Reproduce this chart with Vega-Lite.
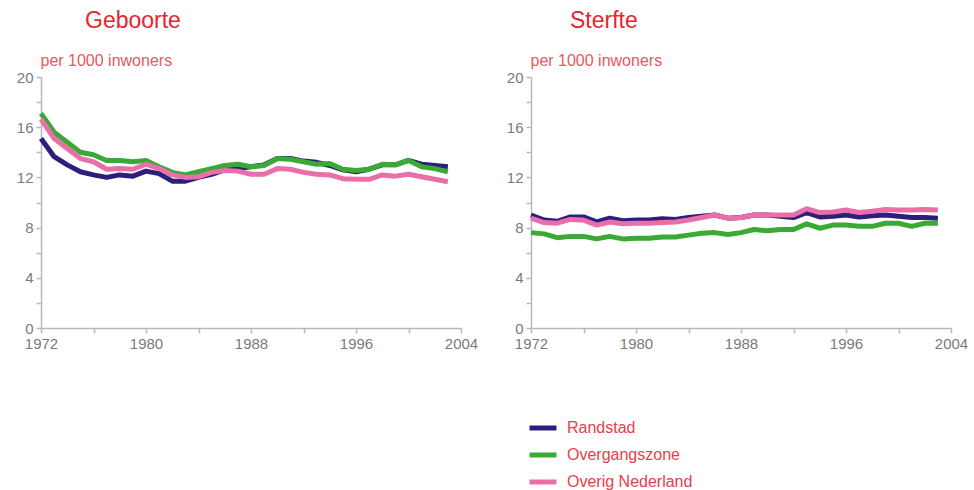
{
  "$schema": "https://vega.github.io/schema/vega-lite/v6.json",
  "padding": {"left": 11, "top": 10, "right": 0, "bottom": 0},
  "background": "white",
  "config": {
    "view": {"stroke": null},
    "font": "Liberation Sans",
    "axis": {
      "grid": false,
      "domainColor": "#b8b8b8",
      "tickColor": "#b8b8b8",
      "domainWidth": 1.5,
      "tickWidth": 1.5,
      "tickSize": 5,
      "labelColor": "#7a7a7a",
      "labelFont": "Liberation Sans",
      "labelFontSize": 15,
      "labelPadding": 3
    },
    "title": {"font": "Liberation Sans", "fontSize": 23, "fontWeight": "normal", "color": "#e5262e", "anchor": "start", "frame": "group"}
  },
  "data": {"values": [
    {"panel":"G","region":"Randstad","year":1972,"value":15.1},
    {"panel":"G","region":"Randstad","year":1973,"value":13.65},
    {"panel":"G","region":"Randstad","year":1974,"value":13.0},
    {"panel":"G","region":"Randstad","year":1975,"value":12.45},
    {"panel":"G","region":"Randstad","year":1976,"value":12.2},
    {"panel":"G","region":"Randstad","year":1977,"value":12.0},
    {"panel":"G","region":"Randstad","year":1978,"value":12.2},
    {"panel":"G","region":"Randstad","year":1979,"value":12.1},
    {"panel":"G","region":"Randstad","year":1980,"value":12.5},
    {"panel":"G","region":"Randstad","year":1981,"value":12.3},
    {"panel":"G","region":"Randstad","year":1982,"value":11.7},
    {"panel":"G","region":"Randstad","year":1983,"value":11.7},
    {"panel":"G","region":"Randstad","year":1984,"value":12.0},
    {"panel":"G","region":"Randstad","year":1985,"value":12.25},
    {"panel":"G","region":"Randstad","year":1986,"value":12.6},
    {"panel":"G","region":"Randstad","year":1987,"value":12.7},
    {"panel":"G","region":"Randstad","year":1988,"value":12.85},
    {"panel":"G","region":"Randstad","year":1989,"value":13.0},
    {"panel":"G","region":"Randstad","year":1990,"value":13.5},
    {"panel":"G","region":"Randstad","year":1991,"value":13.5},
    {"panel":"G","region":"Randstad","year":1992,"value":13.3},
    {"panel":"G","region":"Randstad","year":1993,"value":13.2},
    {"panel":"G","region":"Randstad","year":1994,"value":12.95},
    {"panel":"G","region":"Randstad","year":1995,"value":12.6},
    {"panel":"G","region":"Randstad","year":1996,"value":12.45},
    {"panel":"G","region":"Randstad","year":1997,"value":12.65},
    {"panel":"G","region":"Randstad","year":1998,"value":13.0},
    {"panel":"G","region":"Randstad","year":1999,"value":13.0},
    {"panel":"G","region":"Randstad","year":2000,"value":13.35},
    {"panel":"G","region":"Randstad","year":2001,"value":13.05},
    {"panel":"G","region":"Randstad","year":2002,"value":12.95},
    {"panel":"G","region":"Randstad","year":2003,"value":12.85},
    {"panel":"G","region":"Overgangszone","year":1972,"value":17.1},
    {"panel":"G","region":"Overgangszone","year":1973,"value":15.6},
    {"panel":"G","region":"Overgangszone","year":1974,"value":14.8},
    {"panel":"G","region":"Overgangszone","year":1975,"value":14.0},
    {"panel":"G","region":"Overgangszone","year":1976,"value":13.8},
    {"panel":"G","region":"Overgangszone","year":1977,"value":13.35},
    {"panel":"G","region":"Overgangszone","year":1978,"value":13.35},
    {"panel":"G","region":"Overgangszone","year":1979,"value":13.25},
    {"panel":"G","region":"Overgangszone","year":1980,"value":13.35},
    {"panel":"G","region":"Overgangszone","year":1981,"value":12.85},
    {"panel":"G","region":"Overgangszone","year":1982,"value":12.4},
    {"panel":"G","region":"Overgangszone","year":1983,"value":12.2},
    {"panel":"G","region":"Overgangszone","year":1984,"value":12.45},
    {"panel":"G","region":"Overgangszone","year":1985,"value":12.7},
    {"panel":"G","region":"Overgangszone","year":1986,"value":12.95},
    {"panel":"G","region":"Overgangszone","year":1987,"value":13.05},
    {"panel":"G","region":"Overgangszone","year":1988,"value":12.85},
    {"panel":"G","region":"Overgangszone","year":1989,"value":12.95},
    {"panel":"G","region":"Overgangszone","year":1990,"value":13.5},
    {"panel":"G","region":"Overgangszone","year":1991,"value":13.45},
    {"panel":"G","region":"Overgangszone","year":1992,"value":13.25},
    {"panel":"G","region":"Overgangszone","year":1993,"value":13.05},
    {"panel":"G","region":"Overgangszone","year":1994,"value":13.1},
    {"panel":"G","region":"Overgangszone","year":1995,"value":12.65},
    {"panel":"G","region":"Overgangszone","year":1996,"value":12.55},
    {"panel":"G","region":"Overgangszone","year":1997,"value":12.65},
    {"panel":"G","region":"Overgangszone","year":1998,"value":13.05},
    {"panel":"G","region":"Overgangszone","year":1999,"value":13.0},
    {"panel":"G","region":"Overgangszone","year":2000,"value":13.35},
    {"panel":"G","region":"Overgangszone","year":2001,"value":12.85},
    {"panel":"G","region":"Overgangszone","year":2002,"value":12.7},
    {"panel":"G","region":"Overgangszone","year":2003,"value":12.45},
    {"panel":"G","region":"Overig Nederland","year":1972,"value":16.65},
    {"panel":"G","region":"Overig Nederland","year":1973,"value":15.1},
    {"panel":"G","region":"Overig Nederland","year":1974,"value":14.3},
    {"panel":"G","region":"Overig Nederland","year":1975,"value":13.5},
    {"panel":"G","region":"Overig Nederland","year":1976,"value":13.25},
    {"panel":"G","region":"Overig Nederland","year":1977,"value":12.65},
    {"panel":"G","region":"Overig Nederland","year":1978,"value":12.7},
    {"panel":"G","region":"Overig Nederland","year":1979,"value":12.65},
    {"panel":"G","region":"Overig Nederland","year":1980,"value":13.05},
    {"panel":"G","region":"Overig Nederland","year":1981,"value":12.7},
    {"panel":"G","region":"Overig Nederland","year":1982,"value":12.2},
    {"panel":"G","region":"Overig Nederland","year":1983,"value":12.0},
    {"panel":"G","region":"Overig Nederland","year":1984,"value":12.05},
    {"panel":"G","region":"Overig Nederland","year":1985,"value":12.4},
    {"panel":"G","region":"Overig Nederland","year":1986,"value":12.55},
    {"panel":"G","region":"Overig Nederland","year":1987,"value":12.5},
    {"panel":"G","region":"Overig Nederland","year":1988,"value":12.25},
    {"panel":"G","region":"Overig Nederland","year":1989,"value":12.25},
    {"panel":"G","region":"Overig Nederland","year":1990,"value":12.7},
    {"panel":"G","region":"Overig Nederland","year":1991,"value":12.65},
    {"panel":"G","region":"Overig Nederland","year":1992,"value":12.4},
    {"panel":"G","region":"Overig Nederland","year":1993,"value":12.25},
    {"panel":"G","region":"Overig Nederland","year":1994,"value":12.2},
    {"panel":"G","region":"Overig Nederland","year":1995,"value":11.9},
    {"panel":"G","region":"Overig Nederland","year":1996,"value":11.85},
    {"panel":"G","region":"Overig Nederland","year":1997,"value":11.85},
    {"panel":"G","region":"Overig Nederland","year":1998,"value":12.2},
    {"panel":"G","region":"Overig Nederland","year":1999,"value":12.1},
    {"panel":"G","region":"Overig Nederland","year":2000,"value":12.25},
    {"panel":"G","region":"Overig Nederland","year":2001,"value":12.05},
    {"panel":"G","region":"Overig Nederland","year":2002,"value":11.85},
    {"panel":"G","region":"Overig Nederland","year":2003,"value":11.65},
    {"panel":"S","region":"Randstad","year":1972,"value":9.0},
    {"panel":"S","region":"Randstad","year":1973,"value":8.6},
    {"panel":"S","region":"Randstad","year":1974,"value":8.5},
    {"panel":"S","region":"Randstad","year":1975,"value":8.85},
    {"panel":"S","region":"Randstad","year":1976,"value":8.85},
    {"panel":"S","region":"Randstad","year":1977,"value":8.45},
    {"panel":"S","region":"Randstad","year":1978,"value":8.75},
    {"panel":"S","region":"Randstad","year":1979,"value":8.55},
    {"panel":"S","region":"Randstad","year":1980,"value":8.6},
    {"panel":"S","region":"Randstad","year":1981,"value":8.6},
    {"panel":"S","region":"Randstad","year":1982,"value":8.7},
    {"panel":"S","region":"Randstad","year":1983,"value":8.65},
    {"panel":"S","region":"Randstad","year":1984,"value":8.8},
    {"panel":"S","region":"Randstad","year":1985,"value":8.9},
    {"panel":"S","region":"Randstad","year":1986,"value":9.0},
    {"panel":"S","region":"Randstad","year":1987,"value":8.75},
    {"panel":"S","region":"Randstad","year":1988,"value":8.8},
    {"panel":"S","region":"Randstad","year":1989,"value":9.0},
    {"panel":"S","region":"Randstad","year":1990,"value":9.0},
    {"panel":"S","region":"Randstad","year":1991,"value":8.9},
    {"panel":"S","region":"Randstad","year":1992,"value":8.8},
    {"panel":"S","region":"Randstad","year":1993,"value":9.2},
    {"panel":"S","region":"Randstad","year":1994,"value":8.85},
    {"panel":"S","region":"Randstad","year":1995,"value":8.9},
    {"panel":"S","region":"Randstad","year":1996,"value":9.0},
    {"panel":"S","region":"Randstad","year":1997,"value":8.85},
    {"panel":"S","region":"Randstad","year":1998,"value":8.95},
    {"panel":"S","region":"Randstad","year":1999,"value":9.0},
    {"panel":"S","region":"Randstad","year":2000,"value":8.9},
    {"panel":"S","region":"Randstad","year":2001,"value":8.8},
    {"panel":"S","region":"Randstad","year":2002,"value":8.8},
    {"panel":"S","region":"Randstad","year":2003,"value":8.75},
    {"panel":"S","region":"Overgangszone","year":1972,"value":7.6},
    {"panel":"S","region":"Overgangszone","year":1973,"value":7.5},
    {"panel":"S","region":"Overgangszone","year":1974,"value":7.2},
    {"panel":"S","region":"Overgangszone","year":1975,"value":7.3},
    {"panel":"S","region":"Overgangszone","year":1976,"value":7.3},
    {"panel":"S","region":"Overgangszone","year":1977,"value":7.1},
    {"panel":"S","region":"Overgangszone","year":1978,"value":7.3},
    {"panel":"S","region":"Overgangszone","year":1979,"value":7.1},
    {"panel":"S","region":"Overgangszone","year":1980,"value":7.15},
    {"panel":"S","region":"Overgangszone","year":1981,"value":7.15},
    {"panel":"S","region":"Overgangszone","year":1982,"value":7.25},
    {"panel":"S","region":"Overgangszone","year":1983,"value":7.25},
    {"panel":"S","region":"Overgangszone","year":1984,"value":7.4},
    {"panel":"S","region":"Overgangszone","year":1985,"value":7.55},
    {"panel":"S","region":"Overgangszone","year":1986,"value":7.6},
    {"panel":"S","region":"Overgangszone","year":1987,"value":7.45},
    {"panel":"S","region":"Overgangszone","year":1988,"value":7.6},
    {"panel":"S","region":"Overgangszone","year":1989,"value":7.85},
    {"panel":"S","region":"Overgangszone","year":1990,"value":7.75},
    {"panel":"S","region":"Overgangszone","year":1991,"value":7.85},
    {"panel":"S","region":"Overgangszone","year":1992,"value":7.85},
    {"panel":"S","region":"Overgangszone","year":1993,"value":8.3},
    {"panel":"S","region":"Overgangszone","year":1994,"value":7.95},
    {"panel":"S","region":"Overgangszone","year":1995,"value":8.2},
    {"panel":"S","region":"Overgangszone","year":1996,"value":8.2},
    {"panel":"S","region":"Overgangszone","year":1997,"value":8.1},
    {"panel":"S","region":"Overgangszone","year":1998,"value":8.1},
    {"panel":"S","region":"Overgangszone","year":1999,"value":8.35},
    {"panel":"S","region":"Overgangszone","year":2000,"value":8.35},
    {"panel":"S","region":"Overgangszone","year":2001,"value":8.1},
    {"panel":"S","region":"Overgangszone","year":2002,"value":8.35},
    {"panel":"S","region":"Overgangszone","year":2003,"value":8.35},
    {"panel":"S","region":"Overig Nederland","year":1972,"value":8.75},
    {"panel":"S","region":"Overig Nederland","year":1973,"value":8.4},
    {"panel":"S","region":"Overig Nederland","year":1974,"value":8.35},
    {"panel":"S","region":"Overig Nederland","year":1975,"value":8.65},
    {"panel":"S","region":"Overig Nederland","year":1976,"value":8.6},
    {"panel":"S","region":"Overig Nederland","year":1977,"value":8.2},
    {"panel":"S","region":"Overig Nederland","year":1978,"value":8.45},
    {"panel":"S","region":"Overig Nederland","year":1979,"value":8.3},
    {"panel":"S","region":"Overig Nederland","year":1980,"value":8.35},
    {"panel":"S","region":"Overig Nederland","year":1981,"value":8.35},
    {"panel":"S","region":"Overig Nederland","year":1982,"value":8.4},
    {"panel":"S","region":"Overig Nederland","year":1983,"value":8.45},
    {"panel":"S","region":"Overig Nederland","year":1984,"value":8.6},
    {"panel":"S","region":"Overig Nederland","year":1985,"value":8.8},
    {"panel":"S","region":"Overig Nederland","year":1986,"value":9.0},
    {"panel":"S","region":"Overig Nederland","year":1987,"value":8.75},
    {"panel":"S","region":"Overig Nederland","year":1988,"value":8.8},
    {"panel":"S","region":"Overig Nederland","year":1989,"value":9.0},
    {"panel":"S","region":"Overig Nederland","year":1990,"value":9.0},
    {"panel":"S","region":"Overig Nederland","year":1991,"value":9.0},
    {"panel":"S","region":"Overig Nederland","year":1992,"value":9.0},
    {"panel":"S","region":"Overig Nederland","year":1993,"value":9.5},
    {"panel":"S","region":"Overig Nederland","year":1994,"value":9.2},
    {"panel":"S","region":"Overig Nederland","year":1995,"value":9.25},
    {"panel":"S","region":"Overig Nederland","year":1996,"value":9.4},
    {"panel":"S","region":"Overig Nederland","year":1997,"value":9.2},
    {"panel":"S","region":"Overig Nederland","year":1998,"value":9.3},
    {"panel":"S","region":"Overig Nederland","year":1999,"value":9.45},
    {"panel":"S","region":"Overig Nederland","year":2000,"value":9.4},
    {"panel":"S","region":"Overig Nederland","year":2001,"value":9.4},
    {"panel":"S","region":"Overig Nederland","year":2002,"value":9.45},
    {"panel":"S","region":"Overig Nederland","year":2003,"value":9.4}
  ]},
  "spacing": 23,
  "resolve": {"legend": {"color": "independent"}},
  "hconcat": [
    {
      "width": 420,
      "height": 251,
      "title": {"text": "Geboorte", "dx": 44, "offset": 19},
      "transform": [{"filter": "datum.panel == 'G'"}],
      "mark": {"type": "line", "strokeWidth": 5, "strokeJoin": "round"},
      "encoding": {
        "x": {"field": "year", "type": "quantitative", "scale": {"domain": [1972, 2004], "nice": false, "zero": false},
              "axis": {"title": null, "format": "d", "values": [1972,1976,1980,1984,1988,1992,1996,2000,2004], "labelExpr": "(datum.value - 1972) % 8 == 0 ? datum.label : ''", "labelFlush": false, "labelOverlap": false}},
        "y": {"field": "value", "type": "quantitative", "scale": {"domain": [0, 20], "nice": false},
              "axis": {"title": "per 1000 inwoners", "titleAngle": 0, "titleAlign": "left", "titleBaseline": "alphabetic", "titleX": -1, "titleY": -12, "titleFont": "Liberation Sans", "titleFontSize": 16, "titleFontWeight": "normal", "titleColor": "#ec5660", "values": [0,2,4,6,8,10,12,14,16,18,20], "labelExpr": "datum.value % 4 == 0 ? datum.label : ''", "minExtent": 30, "maxExtent": 30}},
        "color": {"field": "region", "type": "nominal", "sort": ["Randstad", "Overgangszone", "Overig Nederland"],
                  "scale": {"domain": ["Randstad", "Overgangszone", "Overig Nederland"], "range": ["#2d1d7c", "#3aa935", "#ea6fa9"]},
                  "legend": null}
      }
    },
    {
      "width": 420,
      "height": 251,
      "title": {"text": "Sterfte", "dx": 39, "offset": 19},
      "transform": [{"filter": "datum.panel == 'S'"}],
      "mark": {"type": "line", "strokeWidth": 5, "strokeJoin": "round"},
      "encoding": {
        "x": {"field": "year", "type": "quantitative", "scale": {"domain": [1972, 2004], "nice": false, "zero": false},
              "axis": {"title": null, "format": "d", "values": [1972,1976,1980,1984,1988,1992,1996,2000,2004], "labelExpr": "(datum.value - 1972) % 8 == 0 ? datum.label : ''", "labelFlush": false, "labelOverlap": false}},
        "y": {"field": "value", "type": "quantitative", "scale": {"domain": [0, 20], "nice": false},
              "axis": {"title": "per 1000 inwoners", "titleAngle": 0, "titleAlign": "left", "titleBaseline": "alphabetic", "titleX": -1, "titleY": -12, "titleFont": "Liberation Sans", "titleFontSize": 16, "titleFontWeight": "normal", "titleColor": "#ec5660", "values": [0,2,4,6,8,10,12,14,16,18,20], "labelExpr": "datum.value % 4 == 0 ? datum.label : ''", "minExtent": 30, "maxExtent": 30}},
        "color": {"field": "region", "type": "nominal", "sort": ["Randstad", "Overgangszone", "Overig Nederland"],
                  "scale": {"domain": ["Randstad", "Overgangszone", "Overig Nederland"], "range": ["#2d1d7c", "#3aa935", "#ea6fa9"]},
                  "legend": {"title": null, "orient": "none", "legendX": -4, "legendY": 335, "symbolType": "stroke", "symbolSize": 729, "symbolStrokeWidth": 5, "labelFont": "Liberation Sans", "labelFontSize": 16, "labelColor": "#e8404a", "labelOffset": 8, "rowPadding": 1}}
      }
    }
  ]
}
